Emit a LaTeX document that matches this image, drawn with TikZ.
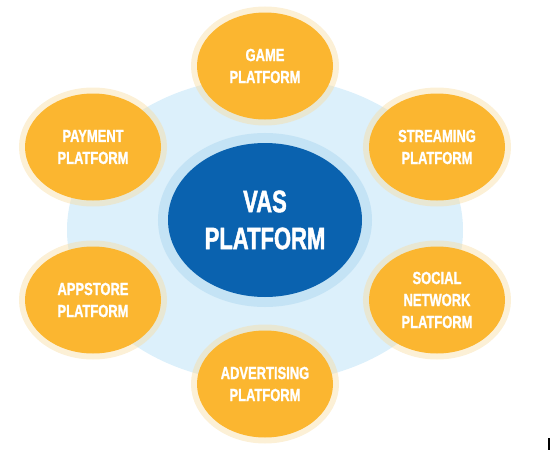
\documentclass[tikz,border=0pt]{standalone}
\usepackage{fontspec}
\usepackage{tikz}
\usepackage{xcolor}
\usetikzlibrary{shapes.geometric}
\setmainfont{Liberation Sans}
\newfontfamily\petalfont{Liberation Sans Bold}[FakeStretch=0.74, FakeBold=1.2]
\newfontfamily\hubfont{Liberation Sans Bold}[FakeStretch=0.71, FakeBold=1.5]
\definecolor{vOrange}{HTML}{FBB630}
\definecolor{vCream}{HTML}{F8DDA4}
\definecolor{vSky}{HTML}{DCF0FB}
\definecolor{vRing}{HTML}{C4E3F5}
\definecolor{vBlue}{HTML}{0A62AF}

\begin{document}
\begin{tikzpicture}[x=1pt, y=-1pt,
  backdrop/.style={ellipse, fill=vSky, minimum width=396pt, minimum height=306pt},
  hub/.style={ellipse, fill=vBlue, minimum width=194pt, minimum height=154pt,
              inner sep=0pt, align=center, text=white,
              font=\hubfont\fontsize{31}{37}\selectfont,
              preaction={draw=vRing, line width=20pt}},
  petal/.style={ellipse, fill=vOrange, minimum width=136pt, minimum height=107pt,
                inner sep=0pt, align=center, text=white,
                font=\petalfont\fontsize{17.5}{22}\selectfont,
                preaction={draw=vCream, draw opacity=0.45, line width=12pt}},
]
  \useasboundingbox (0,0) rectangle (550,458);

  % BACKGROUND
  \node[backdrop] (back) at (265,230) {};

  % CENTER
  \node[hub] (vas) at (265,220) {VAS\\PLATFORM};

  % PLATFORMS
  \node[petal] (game) at (265,66) {GAME\\PLATFORM};
  \node[petal] (payment) at (93,147) {PAYMENT\\PLATFORM};
  \node[petal] (streaming) at (437,147) {STREAMING\\PLATFORM};
  \node[petal] (appstore) at (93,300) {APPSTORE\\PLATFORM};
  \node[petal] (social) at (437,300) {SOCIAL\\NETWORK\\PLATFORM};
  \node[petal] (advert) at (265,384) {ADVERTISING\\PLATFORM};

  % edge mark
  \draw[line width=1.5pt] (549,438) -- (549,450);
\end{tikzpicture}
\end{document}
